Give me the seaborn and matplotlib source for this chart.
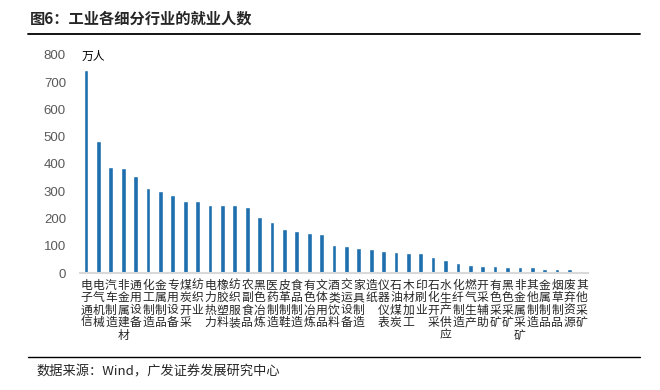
import matplotlib
matplotlib.use("Agg")
import matplotlib.pyplot as plt
import pandas as pd
import seaborn as sns

# data
industries = [
    "电子通信", "电气机械", "汽车制造", "非金属建材", "通用设备", "化工制造",
    "金属制品", "专用设备", "煤炭开采", "纺织业", "电力热力", "橡胶塑料",
    "纺织服装", "农副食品", "黑色冶炼", "医药制造", "皮革制鞋", "食品制造",
    "有色冶炼", "文体用品", "酒类饮料", "交运设备", "家具制造", "造纸",
    "仪器仪表", "石油煤炭", "木材加工", "印刷业", "石化开采", "水生产供应",
    "化纤制造", "燃气生产", "开采辅助", "有色采矿", "黑色采矿", "非金属采矿",
    "其他制造", "金属制品", "烟草制品", "废弃资源", "其他采矿",
]
employment = [
    745, 485, 388, 386, 355, 311, 300, 285, 263, 263, 250, 250,
    250, 241, 205, 186, 161, 153, 147, 143, 102, 99, 92, 88,
    81, 77, 74, 74, 59, 48, 37, 29, 26, 26, 22, 22,
    22, 15, 15, 15, 4,
]
y_ticks = [0, 100, 200, 300, 400, 500, 600, 700, 800]

sns.set_theme(style="white")
plt.rcParams["font.family"] = ["Noto Sans CJK SC", "DejaVu Sans"]

# "金属制品" appears twice, so bars are keyed by position
df = pd.DataFrame({"pos": range(len(industries)), "value": employment})

fig = plt.figure(figsize=(6.6, 3.9), dpi=100)
ax = fig.add_axes([0.121, 0.30, 0.77, 0.559])

sns.barplot(data=df, x="pos", y="value", color="#1f6fae",
            width=0.38, saturation=1, errorbar=None, ax=ax)

ax.set_ylim(0, 800)
ax.set_xlim(-0.5, len(industries) - 0.5)
ax.set_yticks(y_ticks)
ax.set_yticklabels([str(t) for t in y_ticks], color="#595959",
                   fontsize=9.5, family="Liberation Sans")
ax.set_xticks(range(len(industries)))
ax.set_xticklabels(["\n".join(s) for s in industries], fontsize=8.5,
                   color="#262626", linespacing=0.95, va="top")
ax.tick_params(axis="both", length=0)
ax.tick_params(axis="x", pad=4)
ax.tick_params(axis="y", pad=10)
ax.set_xlabel("")
ax.set_ylabel("")
for side in ["top", "right", "left"]:
    ax.spines[side].set_visible(False)
ax.spines["bottom"].set_color("#d9d9d9")
ax.spines["bottom"].set_linewidth(1.5)

ax.text(0.004, 0.995, "万人", transform=ax.transAxes, fontsize=8.5,
        va="center", ha="left", color="#000000")

# header / footer
fig.text(0.045, 0.953, "图6：工业各细分行业的就业人数", fontsize=11,
         fontweight="bold", va="center", ha="left")
fig.add_artist(plt.Line2D([0.042, 0.97], [0.913, 0.913], color="black",
                          linewidth=1.3, transform=fig.transFigure))
fig.add_artist(plt.Line2D([0.042, 0.97], [0.085, 0.085], color="black",
                          linewidth=1.0, transform=fig.transFigure))
fig.text(0.055, 0.046, "数据来源：Wind，广发证券发展研究中心", fontsize=9.5,
         va="center", ha="left", color="#262626")

fig.savefig("out.png", dpi=100)
